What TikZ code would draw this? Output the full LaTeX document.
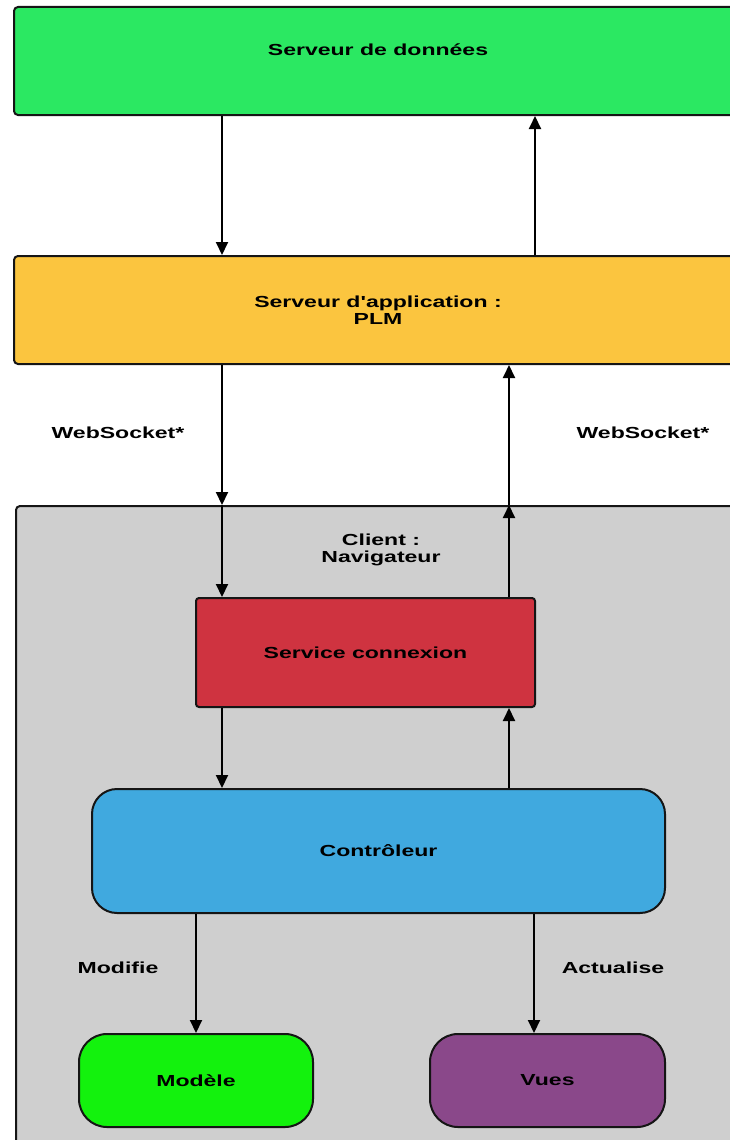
\documentclass[tikz,border=0pt]{standalone}
\usepackage{fontspec}
\newfontfamily\labfont{Liberation Sans}[FakeStretch=1.44]
\usetikzlibrary{arrows.meta,calc}
\definecolor{cdonnees}{HTML}{2BE862}
\definecolor{capp}{HTML}{FBC53F}
\definecolor{cclient}{HTML}{CFCFCF}
\definecolor{cservice}{HTML}{CF3340}
\definecolor{cctrl}{HTML}{40A9DF}
\definecolor{cmodele}{HTML}{13F20D}
\definecolor{cvues}{HTML}{8A488A}
\definecolor{cline}{HTML}{151515}
\newcommand\labtext{\labfont\bfseries\fontsize{16}{17}\selectfont}
\begin{document}
\begin{tikzpicture}[x=1pt,y=1pt,
  box/.style={draw=cline, line width=2pt, inner sep=0pt, font=\labtext, align=center},
  arr/.style={draw=black, line width=2pt, -{Triangle[length=13pt,width=12pt]}},
  lab/.style={font=\labtext, inner sep=0pt, align=center}]
\useasboundingbox (0,0) rectangle (730,-1140);
\clip (0,0) rectangle (730,-1140);

% boxes
\node[box, fill=cdonnees, rounded corners=4pt, minimum width=728pt, minimum height=108pt,
      label={[lab, yshift=11pt]center:Serveur de données}] (donnees) at (378,-61) {};
\node[box, fill=capp, rounded corners=4pt, minimum width=728pt, minimum height=108pt] (app) at (378,-310) {Serveur d'application :\\PLM};
\node[box, fill=cclient, rounded corners=4pt, minimum width=726pt, minimum height=660pt, anchor=north west,
      label={[lab, anchor=north, yshift=-29pt, xshift=2pt]north:Client :\\Navigateur}] (client) at (15,-505) {};
\node[box, fill=cservice, rounded corners=3pt, minimum width=339pt, minimum height=109pt] (service) at (365.5,-652.5) {Service connexion};
\node[box, fill=cctrl, rounded corners=25pt, minimum width=573pt, minimum height=124pt] (ctrl) at (378.5,-851) {Contrôleur};
\node[box, fill=cmodele, rounded corners=28pt, minimum width=234pt, minimum height=93pt] (modele) at (196,-1080.5) {Modèle};
\node[box, fill=cvues, rounded corners=28pt, minimum width=235pt, minimum height=93pt] (vues) at (547.5,-1080.5) {Vues};

% x positions of connectors
\coordinate (xa) at (222,0);
\coordinate (xb) at (535,0);
\coordinate (xc) at (509,0);
\coordinate (xd) at (196,0);
\coordinate (xe) at (534,0);

% connectors
\draw[arr] (xa |- donnees.south) -- (xa |- app.north);
\draw[arr] (xb |- app.north) -- (xb |- donnees.south);
\draw[arr] (xa |- app.south) -- (xa |- client.north);
\draw[arr] (xa |- client.north) -- (xa |- service.north);
\draw[arr] (xc |- service.north) -- (xc |- client.north);
\draw[arr] (xc |- client.north) -- (xc |- app.south);
\draw[arr] (xa |- service.south) -- (xa |- ctrl.north);
\draw[arr] (xc |- ctrl.north) -- (xc |- service.south);
\draw[arr] (xd |- ctrl.south) -- (xd |- modele.north);
\draw[arr] (xe |- ctrl.south) -- (xe |- vues.north);

% labels
\node[lab] (ws1) at (118,-433) {WebSocket*};
\node[lab] (ws2) at (643,-433) {WebSocket*};
\node[lab] (modifie) at (118,-968) {Modifie};
\node[lab] (actualise) at (613,-968) {Actualise};
\end{tikzpicture}
\end{document}
